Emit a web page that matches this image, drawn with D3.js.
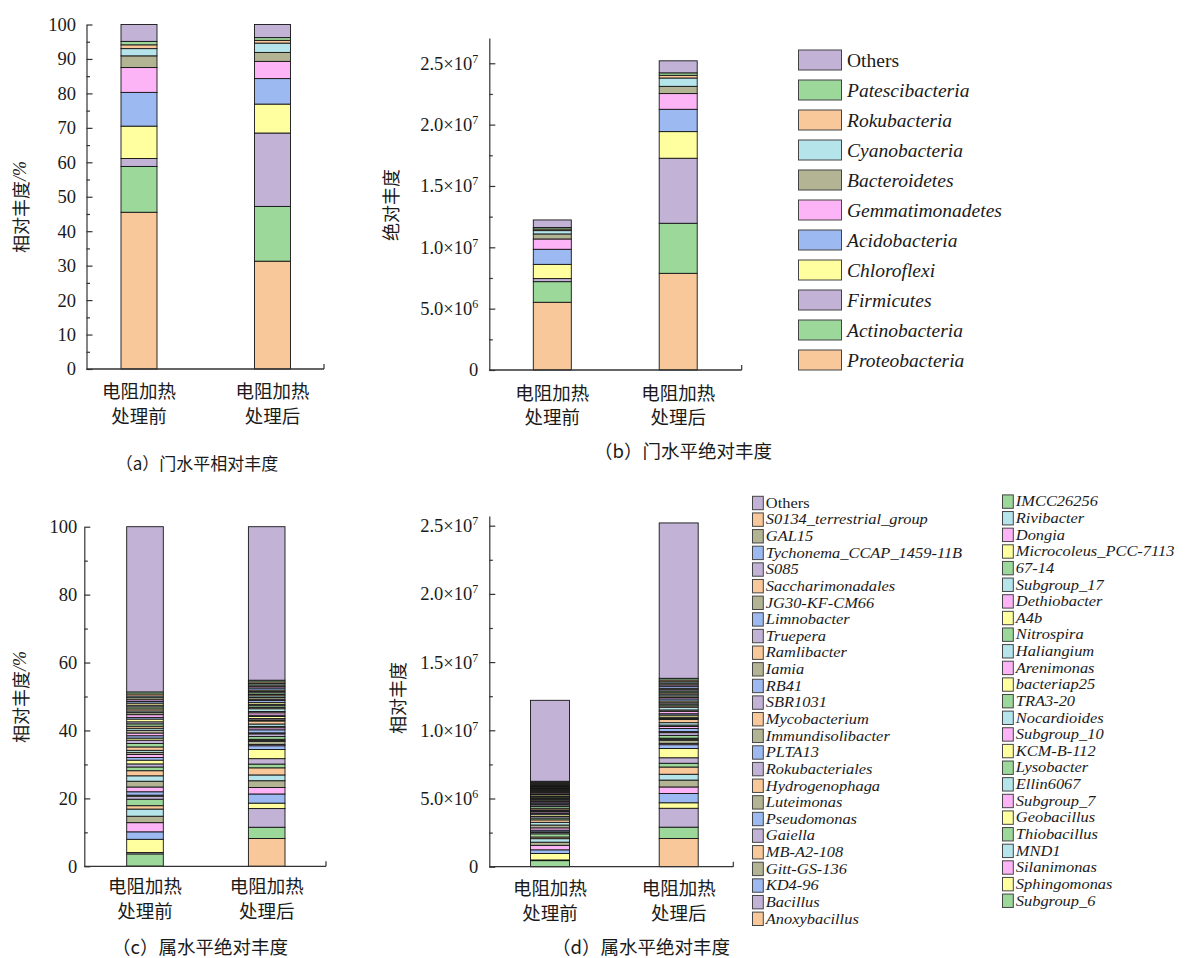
<!DOCTYPE html>
<html><head><meta charset="utf-8">
<script src="https://cdn.jsdelivr.net/npm/d3@7"></script>
<style>
html,body{margin:0;padding:0;background:#fff;}
svg{display:block;}
text{fill:#1a1a1a;}
</style></head><body>
<svg id="chart" width="1186" height="958"></svg>
<script>
// ---------------- DATA ----------------
const categories = ["before", "after"];
const categoryLine1 = ["电阻加热", "电阻加热"];
const categoryLine2 = ["处理前", "处理后"];

const phyla = ["Proteobacteria","Actinobacteria","Firmicutes","Chloroflexi","Acidobacteria",
  "Gemmatimonadetes","Bacteroidetes","Cyanobacteria","Rokubacteria","Patescibacteria","Others"];
const phylumRelBefore = [45.5,13.3,2.3,9.4,9.8,7.2,3.4,2.1,1.1,1.0,4.9];
const phylumRelAfter  = [31.3,15.9,21.3,8.4,7.4,5.0,2.6,2.7,0.8,0.8,3.8];
// absolute abundance, in units of 10^6
const phylumAbsBefore = [5.52,1.68,0.25,1.16,1.23,0.84,0.41,0.27,0.13,0.12,0.62];
const phylumAbsAfter  = [7.88,4.08,5.30,2.17,1.82,1.28,0.59,0.68,0.22,0.20,0.98];

const genera = ["Anoxybacillus","Subgroup_6","Bacillus","Sphingomonas","KD4-96","Silanimonas","Gitt-GS-136",
  "MND1","MB-A2-108","Thiobacillus","Gaiella","Geobacillus","Pseudomonas","Subgroup_7","Luteimonas",
  "Ellin6067","Hydrogenophaga","Lysobacter","Rokubacteriales","KCM-B-112","PLTA13","Subgroup_10",
  "Immundisolibacter","Nocardioides","Mycobacterium","TRA3-20","SBR1031","bacteriap25","RB41",
  "Arenimonas","Iamia","Haliangium","Ramlibacter","Nitrospira","Truepera","A4b","Limnobacter",
  "Dethiobacter","JG30-KF-CM66","Subgroup_17","Saccharimonadales","67-14","S085",
  "Microcoleus_PCC-7113","Tychonema_CCAP_1459-11B","Dongia","GAL15","Rivibacter",
  "S0134_terrestrial_group","IMCC26256","Others"];
const genusRelBefore = [0.05,3.6,0.4,3.9,2.2,2.7,1.9,2.1,1.0,1.9,
  0.9,0.3,1.0,1.4,1.7,1.6,1.5,1.1,0.9,1.1,
  0.8,0.9,0.6,0.6,1.0,1.0,1.0,0.6,0.7,0.8,
  0.8,0.6,0.6,0.7,0.6,0.8,0.5,0.8,0.6,0.5,
  0.6,0.6,0.5,0.6,0.5,0.5,0.6,0.5,0.6,0.6,
  48.65];
const genusRelAfter = [8.2,3.3,5.5,1.6,2.7,1.9,2.0,1.7,2.1,1.1,
  1.6,2.7,1.1,0.4,0.9,0.3,0.3,0.8,0.8,0.3,
  0.9,0.6,0.4,0.7,0.9,0.3,0.4,0.6,0.4,0.7,
  0.4,0.8,0.4,0.5,0.4,0.5,0.6,0.4,0.5,0.5,
  0.4,0.5,0.4,0.4,0.6,0.4,0.5,0.4,0.5,0.5,
  45.2];
// absolute abundance, in units of 10^6
const genusAbsBefore = [0.006,0.439,0.049,0.476,0.268,0.329,0.232,0.256,0.122,0.232,
  0.110,0.037,0.122,0.171,0.207,0.195,0.183,0.134,0.110,0.134,
  0.098,0.110,0.073,0.073,0.122,0.122,0.122,0.073,0.085,0.098,
  0.098,0.073,0.073,0.085,0.073,0.098,0.061,0.098,0.073,0.061,
  0.073,0.073,0.061,0.073,0.061,0.061,0.073,0.061,0.073,0.073,
  5.935];
const genusAbsAfter = [2.066,0.832,1.386,0.403,0.680,0.479,0.504,0.428,0.529,0.277,
  0.403,0.680,0.277,0.101,0.227,0.076,0.076,0.202,0.202,0.076,
  0.227,0.151,0.101,0.176,0.227,0.076,0.101,0.151,0.101,0.176,
  0.101,0.202,0.101,0.126,0.101,0.126,0.151,0.101,0.126,0.126,
  0.101,0.126,0.101,0.101,0.151,0.101,0.126,0.101,0.126,0.126,
  11.390];

const relTicks = [0,10,20,30,40,50,60,70,80,90,100];
const relTicksC = [0,20,40,60,80,100];
const absTicks = [0,5,10,15,20,25];
const absTickMantissa = ["0","5.0×10","1.0×10","1.5×10","2.0×10","2.5×10"];
const absTickExponent = ["","6","7","7","7","7"];

const palette = ["#F9C89A","#9DD89B","#C1B2D6","#FFFF9F","#9DB9F1","#FDB4F6","#B2B493","#B5E5EA"];

const captions = ["（a）门水平相对丰度","（b）门水平绝对丰度","（c）属水平绝对丰度","（d）属水平绝对丰度"];

// ---------------- DRAW ----------------
const svg = d3.select("#chart");
const CJK = '"Noto Sans CJK SC","Noto Sans CJK JP",sans-serif';
const SERIF = '"Liberation Serif","Times New Roman",Tinos,"DejaVu Serif",serif';
const AXIS_COL = "#333";

function drawPanel(cfg) {
  const g = svg.append("g");
  const y = d3.scaleLinear().domain([0, cfg.max]).range([cfg.y0, cfg.yTop]);
  const x = d3.scalePoint().domain(categories).range(cfg.xRange);

  const keys = d3.range(cfg.series[0].length);
  const rows = categories.map((c, i) => {
    const o = {cat: c};
    keys.forEach(k => o[k] = cfg.series[i][k]);
    return o;
  });
  const stacked = d3.stack().keys(keys)(rows);

  g.selectAll("g.layer").data(stacked).join("g").attr("class","layer")
    .attr("fill", (d, i) => palette[i % 8])
    .selectAll("rect").data(d => d).join("rect")
    .attr("x", d => x(d.data.cat) - cfg.barW / 2)
    .attr("width", cfg.barW)
    .attr("y", d => y(d[1]))
    .attr("height", d => Math.max(0, y(d[0]) - y(d[1])))
    .attr("stroke", "#151515").attr("stroke-width", 0.9);

  // y axis: major ticks (inward)
  const yAxis = d3.axisLeft(y).tickValues(cfg.major).tickSize(-6).tickSizeOuter(0).tickFormat("");
  const ga = g.append("g").attr("transform", `translate(${cfg.axisX},0)`).call(yAxis);
  const yMinor = d3.axisLeft(y).tickValues(cfg.minor).tickSize(-3.5).tickSizeOuter(0).tickFormat("");
  const gm = g.append("g").attr("transform", `translate(${cfg.axisX},0)`).call(yMinor);
  gm.select(".domain").remove();
  [ga, gm].forEach(s => {
    s.selectAll("path,line").attr("stroke", AXIS_COL).attr("stroke-width", 1.2);
  });

  // x axis line + end tick
  g.append("line").attr("x1", cfg.axisX).attr("x2", cfg.xEnd)
    .attr("y1", cfg.y0).attr("y2", cfg.y0).attr("stroke", AXIS_COL).attr("stroke-width", 1.3);
  g.append("line").attr("x1", cfg.xEnd).attr("x2", cfg.xEnd)
    .attr("y1", cfg.y0).attr("y2", cfg.y0 - 5).attr("stroke", AXIS_COL).attr("stroke-width", 1.2);

  // tick labels
  cfg.major.forEach((v, i) => {
    const t = g.append("text").attr("x", cfg.axisX - cfg.labelGap).attr("y", y(v))
      .attr("dy", "0.35em").attr("text-anchor", "end").attr("font-size", 18.5)
      .style("font-family", SERIF);
    if (cfg.mant) {
      t.append("tspan").text(cfg.mant[i]);
      if (cfg.expo[i]) t.append("tspan").attr("font-size", 12).attr("dy", -7).text(cfg.expo[i]);
    } else {
      t.text(v);
    }
  });

  // category labels
  categories.forEach((c, i) => {
    g.append("text").attr("x", x(c)).attr("y", cfg.catY1).attr("text-anchor", "middle")
      .attr("dominant-baseline", "central").style("font-family", CJK).attr("font-size", 18.5)
      .attr("fill", "#2a2a2a").text(categoryLine1[i]);
    g.append("text").attr("x", x(c)).attr("y", cfg.catY2).attr("text-anchor", "middle")
      .attr("dominant-baseline", "central").style("font-family", CJK).attr("font-size", 18.5)
      .attr("fill", "#2a2a2a").text(categoryLine2[i]);
  });

  // y title
  const yt = g.append("text").attr("transform", `translate(${cfg.titleX},${cfg.titleY}) rotate(-90)`)
    .attr("text-anchor", "middle").attr("dominant-baseline", "central")
    .style("font-family", CJK).attr("font-size", 18).attr("fill", "#2a2a2a");
  yt.append("tspan").text(cfg.title);
  if (cfg.titleSuffix) yt.append("tspan").style("font-family", SERIF).attr("font-style","italic").text(cfg.titleSuffix);

  // caption
  g.append("text").attr("x", cfg.capX).attr("y", cfg.capY).attr("text-anchor", "middle")
    .attr("dominant-baseline", "central").style("font-family", CJK).attr("font-size", cfg.capSize)
    .attr("fill", "#2a2a2a").text(cfg.caption);
}

drawPanel({
  series: [phylumRelBefore, phylumRelAfter], max: 100, y0: 369, yTop: 24.5,
  axisX: 86.5, xEnd: 324, xRange: [139, 272.5], barW: 36,
  major: relTicks, minor: d3.range(5, 100, 10), labelGap: 10.5,
  catY1: 390, catY2: 414.5, title: "相对丰度", titleSuffix: "/%", titleX: 20, titleY: 207,
  caption: captions[0], capX: 197, capY: 462, capSize: 17
});
drawPanel({
  series: [phylumAbsBefore, phylumAbsAfter], max: 27.06, y0: 370, yTop: 38,
  axisX: 489.3, xEnd: 741.7, xRange: [552.3, 678.2], barW: 38,
  major: absTicks, minor: d3.range(2.5, 25, 5), labelGap: 11, mant: absTickMantissa, expo: absTickExponent,
  catY1: 391.5, catY2: 416, title: "绝对丰度", titleX: 390, titleY: 205,
  caption: captions[1], capX: 683, capY: 450, capSize: 18.5
});
drawPanel({
  series: [genusRelBefore, genusRelAfter], max: 100, y0: 866.3, yTop: 526.7,
  axisX: 84.3, xEnd: 326, xRange: [145, 266.7], barW: 36.6,
  major: relTicksC, minor: d3.range(10, 100, 20), labelGap: 7,
  catY1: 885, catY2: 909.5, title: "相对丰度", titleSuffix: "/%", titleX: 20, titleY: 697,
  caption: captions[2], capX: 200, capY: 946, capSize: 18.5
});
drawPanel({
  series: [genusAbsBefore, genusAbsAfter], max: 25.71, y0: 866.7, yTop: 516,
  axisX: 489.3, xEnd: 733.3, xRange: [550, 678.7], barW: 39,
  major: absTicks, minor: d3.range(2.5, 25, 5), labelGap: 11, mant: absTickMantissa, expo: absTickExponent,
  catY1: 887, catY2: 911.5, title: "相对丰度", titleX: 397, titleY: 698,
  caption: captions[3], capX: 641, capY: 946, capSize: 18.5
});

// legend (b): phyla, reversed
const legB = svg.append("g");
const phylaRev = phyla.map((p, i) => ({name: p, i})).reverse();
const lyB = d3.scalePoint().domain(d3.range(phylaRev.length)).range([60, 360]);
phylaRev.forEach((d, k) => {
  legB.append("rect").attr("x", 798.5).attr("y", lyB(k) - 10).attr("width", 43).attr("height", 20)
    .attr("fill", palette[d.i % 8]).attr("stroke", "#444").attr("stroke-width", 1);
  legB.append("text").attr("x", 847).attr("y", lyB(k)).attr("dy", "0.35em").attr("font-size", 19.5)
    .style("font-family", SERIF)
    .attr("font-style", d.name === "Others" ? "normal" : "italic").text(d.name);
});

// legend (d): genera, reversed, filled row-wise in two columns
const legD = svg.append("g");
const genRev = genera.map((p, i) => ({name: p, i})).reverse();
const rowY = d3.scaleLinear().domain([0, 25]).range([503, 918.8]);
genRev.forEach((d, k) => {
  const col = k % 2, row = Math.floor(k / 2);
  const sx = col === 0 ? 752.5 : 1002.5;
  const cy = rowY(row) - (col === 1 ? 1.4 : 0);
  legD.append("rect").attr("x", sx).attr("y", cy - 6.7).attr("width", 10.8).attr("height", 13.4)
    .attr("fill", palette[d.i % 8]).attr("stroke", "#444").attr("stroke-width", 1);
  legD.append("text").attr("transform", `translate(${sx + 13.3},${cy}) scale(1.14,1)`)
    .attr("dy", "0.33em").attr("font-size", 14.4)
    .style("font-family", SERIF)
    .attr("font-style", d.name === "Others" ? "normal" : "italic").text(d.name);
});
</script>
</body></html>
